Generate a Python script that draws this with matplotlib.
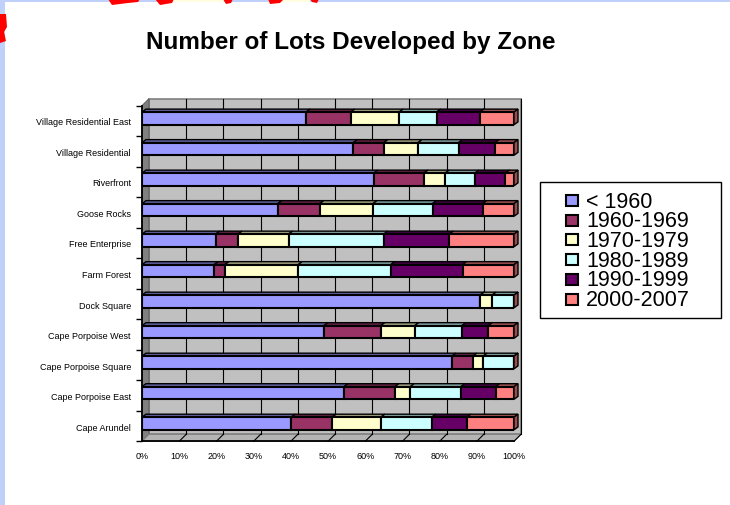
import numpy as np
import matplotlib
matplotlib.use('Agg')
import matplotlib.pyplot as plt
from matplotlib.patches import Rectangle, Polygon

plt.rcParams['font.family'] = ['Liberation Sans', 'DejaVu Sans']

# Zones from bottom to top of the chart
zones = ['Cape Arundel', 'Cape Porpoise East', 'Cape Porpoise Square', 'Cape Porpoise West',
         'Dock Square', 'Farm Forest', 'Free Enterprise', 'Goose Rocks', 'Riverfront',
         'Village Residential', 'Village Residential East']
periods = ['< 1960', '1960-1969', '1970-1979', '1980-1989', '1990-1999', '2000-2007']

# Share of lots (%) per zone for each period
pre_1960 = [40.1, 54.3, 83.3, 48.9, 90.9, 19.4, 19.8, 36.5, 62.3, 56.8, 44.1]
y1960s = [11.0, 13.7, 5.6, 15.3, 0.0, 2.9, 6.0, 11.3, 13.5, 8.2, 12.0]
y1970s = [13.1, 4.1, 2.8, 9.1, 3.2, 19.7, 13.6, 14.3, 5.7, 9.2, 13.0]
y1980s = [13.7, 13.6, 8.3, 12.7, 5.9, 24.9, 25.6, 16.0, 8.0, 10.9, 10.1]
y1990s = [9.4, 9.4, 0.0, 7.1, 0.0, 19.3, 17.6, 13.5, 8.2, 9.8, 11.6]
y2000s = [12.7, 4.9, 0.0, 6.9, 0.0, 13.8, 17.4, 8.4, 2.3, 5.1, 9.2]

series = [pre_1960, y1960s, y1970s, y1980s, y1990s, y2000s]
colors = ['#9999FF', '#993366', '#FFFFCC', '#CCFFFF', '#660066', '#FF8080']

W, H = 730, 506
fig = plt.figure(figsize=(W / 100, H / 100), dpi=100)
fig.patch.set_facecolor('white')


def fx(x):
    return x / W


def fy(y):
    return 1 - y / H


# plot area (front plane)
left_px, right_px, top_px, bot_px = 142, 514, 106.7, 442.3
ax = fig.add_axes([fx(left_px), fy(bot_px), (right_px - left_px) / W, (bot_px - top_px) / H])
ax.set_xlim(0, 100)
ax.set_ylim(-0.5, len(zones) - 0.5)
ax.patch.set_alpha(0)

xu = 100 / (right_px - left_px)          # data units per pixel (x)
yu = len(zones) / (bot_px - top_px)      # data units per pixel (y)
dx, dy = 7 * xu, 7 * yu                  # depth of the back wall
bdx, bdy = 4 * xu, 3 * yu                # depth of each bar
y0, y1 = -0.5, len(zones) - 0.5

# walls and floor
ax.add_patch(Polygon([(dx, y0 + dy), (100 + dx, y0 + dy), (100 + dx, y1 + dy), (dx, y1 + dy)],
                     closed=True, fc='#C0C0C0', ec='#808080', lw=1.2, clip_on=False, zorder=0))
ax.add_patch(Polygon([(0, y0), (dx, y0 + dy), (dx, y1 + dy), (0, y1)],
                     closed=True, fc='#808080', ec='#606060', lw=0.8, clip_on=False, zorder=0))
ax.add_patch(Polygon([(0, y0), (100, y0), (100 + dx, y0 + dy), (dx, y0 + dy)],
                     closed=True, fc='#B4B4B4', ec='#808080', lw=0.8, clip_on=False, zorder=0))
for v in range(10, 101, 10):
    ax.plot([v + dx, v + dx], [y0 + dy, y1 + dy], color='black', lw=0.8, clip_on=False, zorder=0.5)
    ax.plot([v, v + dx], [y0, y0 + dy], color='black', lw=0.8, clip_on=False, zorder=0.5)

# stacked 3D bars
bar_h = 12.7 * yu
shift = 2.5 * yu
data = np.array(series)
data = data / data.sum(axis=0) * 100
for i in range(len(zones)):
    c = i + shift
    lefts = np.concatenate([[0], np.cumsum(data[:, i])[:-1]])
    for j in range(len(periods)):
        w = data[j, i]
        l = lefts[j]
        top_col = tuple(np.array(matplotlib.colors.to_rgb(colors[j])) * 0.62)
        ax.add_patch(Polygon([(l, c + bar_h / 2), (l + w, c + bar_h / 2),
                              (l + w + bdx, c + bar_h / 2 + bdy), (l + bdx, c + bar_h / 2 + bdy)],
                             closed=True, fc=top_col, ec='black', lw=1.0, clip_on=False, zorder=2))
        ax.barh(c, w, left=l, height=bar_h, color=colors[j], edgecolor='black', lw=1.5, zorder=3)
    side_col = tuple(np.array(matplotlib.colors.to_rgb(colors[-1])) * 0.6)
    ax.add_patch(Polygon([(100, c - bar_h / 2), (100 + bdx, c - bar_h / 2 + bdy),
                          (100 + bdx, c + bar_h / 2 + bdy), (100, c + bar_h / 2)],
                         closed=True, fc=side_col, ec='black', lw=1.0, clip_on=False, zorder=2))

# axes
for s in ['top', 'right']:
    ax.spines[s].set_visible(False)
for s in ['left', 'bottom']:
    ax.spines[s].set_linewidth(1.3)
    ax.spines[s].set_zorder(4)
ax.set_xticks(range(0, 101, 10))
ax.set_xticklabels([f'{v}%' for v in range(0, 101, 10)], fontsize=6.5)
ax.tick_params(axis='x', length=0, pad=7)
ax.set_yticks(range(len(zones)))
ax.set_yticklabels(zones, fontsize=6.5)
ax.set_yticks(np.arange(-0.5, len(zones), 1.0), minor=True)
ax.tick_params(axis='y', which='major', length=0, pad=8)
ax.tick_params(axis='y', which='minor', length=4.5, width=1.0, color='black')

# title
fig.text(fx(350.5), fy(49), 'Number of Lots Developed by Zone', ha='center', va='baseline',
         fontsize=17.5, fontweight='bold')

# legend
fig.add_artist(Rectangle((fx(540), fy(319)), (721 - 540) / W, (319 - 183) / H,
                         transform=fig.transFigure, fc='white', ec='black', lw=1.0))
for k, (lab, col) in enumerate(zip(periods, colors)):
    yc = 201.5 + k * 19.7
    fig.add_artist(Rectangle((fx(566), fy(yc + 5.5)), 12 / W, 11 / H, transform=fig.transFigure,
                             fc=col, ec='black', lw=1.5))
    fig.text(fx(586), fy(yc + 0.5), lab, ha='left', va='center', fontsize=15.5)

# page edges
fig.add_artist(Rectangle((0, 0), fx(5), 1, transform=fig.transFigure, fc='#BFD0FA', ec='none'))
fig.add_artist(Rectangle((0, fy(2.5)), 1, 2.5 / H, transform=fig.transFigure, fc='#BFD0FA', ec='none'))
for xa, xb in [(173, 224), (278, 310)]:
    fig.add_artist(Rectangle((fx(xa), fy(2.5)), (xb - xa) / W, 2.5 / H, transform=fig.transFigure,
                             fc='#FFFFE0', ec='none'))
red_marks = [
    [(108, 0), (140, 0), (138, 3), (128, 4), (112, 6)],
    [(155, 0), (174, 0), (172, 4), (160, 6)],
    [(223, 0), (233, 0), (231, 4), (226, 5)],
    [(268, 0), (284, 0), (280, 4), (270, 5)],
    [(310, 0), (319, 0), (317, 4), (312, 3)],
    [(0, 15), (6, 15), (7, 28), (4, 33), (6, 42), (0, 44)],
]
for pts in red_marks:
    fig.add_artist(Polygon([(fx(x), fy(y)) for x, y in pts], closed=True,
                           transform=fig.transFigure, fc='#FF0000', ec='none'))

fig.savefig('out.png', dpi=100)
